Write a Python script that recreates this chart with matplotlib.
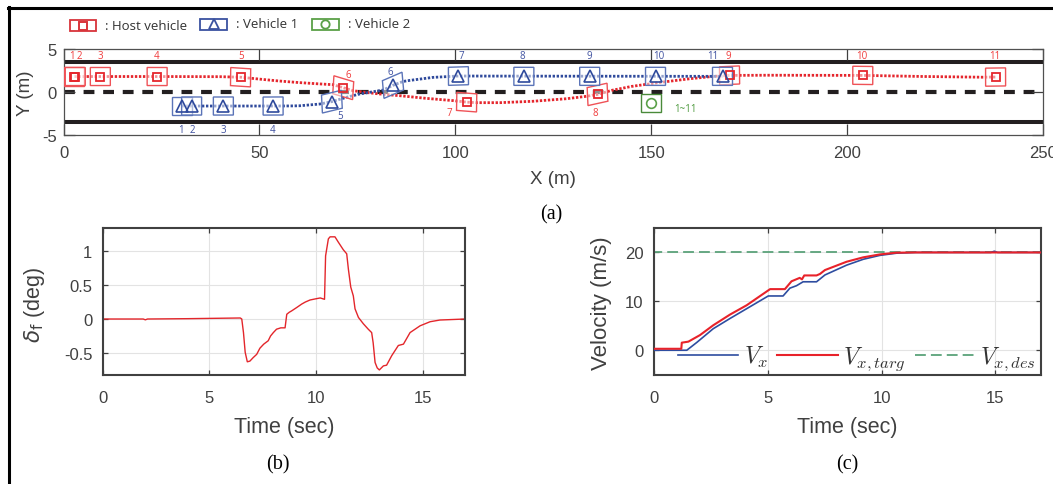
import numpy as np
import matplotlib
matplotlib.use("Agg")
import matplotlib.pyplot as plt
from matplotlib.patches import Polygon, Rectangle
from matplotlib.lines import Line2D
from matplotlib.font_manager import FontProperties

# ---------------- data ----------------
# snapshot positions (m) of the host vehicle, vehicle 1 and vehicle 2
host_x = [2.8, 3.0, 9.4, 23.9, 45.2, 71.4, 102.9, 136.3, 170.0, 204.0, 237.9]
host_y = [1.8, 1.8, 1.8, 1.8, 1.72, 0.5, -1.18, -0.28, 1.93, 1.93, 1.74]
veh1_x = [30.2, 32.7, 40.8, 53.5, 68.5, 84.1, 100.8, 117.5, 134.3, 151.1, 168.2]
veh1_y = [-1.63, -1.63, -1.63, -1.63, -1.12, 0.78, 1.86, 1.82, 1.82, 1.82, 1.82]
veh2_x = [150.0]
veh2_y = [-1.28]

# driven paths (m)
host_path_x = [2.8, 23.9, 40.0, 45.2, 50.0, 55.0, 60.0, 65.0, 68.8, 71.4, 73.9, 77.3,
               80.7, 85.8, 92.6, 99.4, 102.9, 105.4, 111.4, 119.8, 128.4, 133.5, 136.3,
               140.0, 145.0, 152.0, 160.0, 166.0, 170.0, 180.0, 204.0, 220.0, 234.6, 237.9]
host_path_y = [1.8, 1.8, 1.78, 1.72, 1.5, 1.28, 1.1, 0.95, 0.85, 0.5, 0.15, -0.05,
               -0.23, -0.43, -0.74, -1.0, -1.18, -1.24, -1.24, -1.08, -0.78, -0.5, -0.28,
               0.2, 0.65, 1.1, 1.55, 1.82, 1.93, 1.95, 1.93, 1.8, 1.72, 1.74]
veh1_path_x = [30.2, 53.5, 58.0, 60.3, 65.4, 68.5, 72.2, 75.6, 79.0, 81.6, 84.1, 86.7,
               88.4, 94.3, 100.8, 110.0, 168.2]
veh1_path_y = [-1.63, -1.63, -1.62, -1.6, -1.4, -1.12, -0.62, -0.23, 0.03, 0.23, 0.78, 1.23,
               1.35, 1.7, 1.86, 1.85, 1.82]

lane_edge = 3.5
snapshot_ids = [str(i) for i in range(1, 12)]
veh2_tag = "1~11"

# front steering angle (time s, deg)
steer_samples = [
    (0.0, 0.0), (1.9, 0.0), (2.0, -0.012), (2.1, 0.0), (4.0, 0.005), (6.45, 0.015),
    (6.52, 0.0), (6.6, -0.2), (6.68, -0.49), (6.78, -0.63), (6.9, -0.62), (7.05, -0.57),
    (7.22, -0.52), (7.37, -0.43), (7.55, -0.37), (7.76, -0.32), (7.87, -0.25), (8.0, -0.2),
    (8.15, -0.15), (8.35, -0.13), (8.55, -0.13), (8.63, 0.07), (8.75, 0.1), (8.86, 0.12),
    (9.1, 0.17), (9.33, 0.22), (9.5, 0.25), (9.72, 0.28), (10.03, 0.30), (10.2, 0.31),
    (10.40, 0.29), (10.45, 0.93), (10.58, 1.18), (10.66, 1.21), (10.89, 1.21), (11.05, 1.13),
    (11.28, 1.02), (11.44, 0.96), (11.52, 0.73), (11.63, 0.47), (11.75, 0.34), (11.83, 0.15),
    (11.99, 0.023), (12.22, -0.07), (12.45, -0.15), (12.61, -0.2), (12.68, -0.35),
    (12.77, -0.64), (12.87, -0.72), (12.97, -0.75), (13.16, -0.69), (13.31, -0.68),
    (13.55, -0.54), (13.86, -0.39), (14.1, -0.37), (14.41, -0.2), (14.88, -0.1),
    (15.35, -0.04), (15.81, -0.015), (17.0, 0.0),
]
# longitudinal velocities (time s, m/s)
vx_samples = [
    (0.0, 0.0), (1.44, 0.0), (1.88, 1.6), (2.6, 4.4), (3.34, 6.5), (4.07, 8.5),
    (5.02, 11.1), (5.67, 11.1), (5.97, 12.7), (6.26, 13.2), (6.55, 14.0), (7.14, 14.0),
    (7.51, 15.4), (8.46, 17.4), (9.19, 18.6), (9.92, 19.4), (10.65, 19.85), (11.5, 20.0),
    (14.8, 20.0), (14.95, 20.25), (15.1, 20.0), (17.0, 20.0),
]
vtarg_samples = [
    (0.0, 0.3), (1.2, 0.3), (1.22, 1.55), (1.51, 1.76), (2.02, 3.1), (2.6, 5.1),
    (3.34, 7.3), (4.07, 9.2), (4.6, 10.9), (5.1, 12.5), (5.75, 12.5), (6.04, 14.1),
    (6.4, 14.8), (6.5, 14.5), (6.6, 15.3), (7.14, 15.3), (7.29, 15.6), (7.51, 16.4),
    (8.46, 18.1), (9.19, 19.0), (9.92, 19.6), (10.65, 19.95), (11.5, 20.0), (17.0, 20.0),
]
vdes_samples = [(0.0, 0.0), (0.0, 20.0), (17.0, 20.0)]

# ---------------- style ----------------
plt.rcParams["font.family"] = ["Liberation Sans", "DejaVu Sans"]
GRAY = "#404040"
RED, RED_BOX = "#E5262D", "#EF5257"
BLUE, BLUE_BOX = "#2F4A9C", "#5B74B8"
GREEN, GREEN_BOX = "#5AA048", "#4A8A3A"
CAR_L, CAR_W = 5.1, 2.1
LABEL_FONT = dict(family=["Open Sans", "DejaVu Sans"], fontsize=7)

W, H = 1053, 485
fig = plt.figure(figsize=(W / 100, H / 100), dpi=100)


def px_axes(left, top, right, bottom):
    return fig.add_axes([left / W, 1 - bottom / H, (right - left) / W, (bottom - top) / H])


# ---------------- (a) trajectories ----------------
ax = px_axes(63.5, 50, 1043, 136)
ax.set_xlim(0, 250)
ax.set_ylim(-5, 5)
ax.hlines([lane_edge, -lane_edge], 0, 250, color="#231F20", lw=2.9, zorder=1)
ax.plot([0, 250], [0, 0], color="#231F20", lw=3, dashes=(2.6, 2.1), zorder=1)
ax.plot(host_path_x, host_path_y, color=RED, lw=2.0, dashes=(0.85, 0.6), zorder=2)
ax.plot(veh1_path_x, veh1_path_y, color=BLUE, lw=2.0, dashes=(0.85, 0.6), zorder=2)


def headings(xs, px, py):
    slope = np.gradient(np.asarray(py), np.asarray(px))
    return np.arctan(np.interp(xs, px, slope))


def draw_box(x, y, psi, edge):
    c, s = np.cos(psi), np.sin(psi)
    local = np.array([[-CAR_L / 2, -CAR_W / 2], [CAR_L / 2, -CAR_W / 2],
                      [CAR_L / 2, CAR_W / 2], [-CAR_L / 2, CAR_W / 2]])
    pts = local @ np.array([[c, s], [-s, c]]) + [x, y]
    ax.add_patch(Polygon(pts, closed=True, facecolor=(1, 1, 1, 0.5), edgecolor=edge,
                         lw=1.0, zorder=3))


for x, y, p in zip(host_x, host_y, headings(host_x, host_path_x, host_path_y)):
    draw_box(x, y, p, RED_BOX)
for x, y, p in zip(veh1_x, veh1_y, headings(veh1_x, veh1_path_x, veh1_path_y)):
    draw_box(x, y, p, BLUE_BOX)
for x, y in zip(veh2_x, veh2_y):
    draw_box(x, y, 0.0, GREEN_BOX)

ax.plot(host_x, host_y, ls="none", marker="s", ms=6, mfc="none", mec=RED, mew=1.3, zorder=4)
ax.plot(veh1_x, veh1_y, ls="none", marker="^", ms=8, mfc="none", mec=BLUE, mew=1.2, zorder=4)
ax.plot(veh2_x, veh2_y, ls="none", marker="o", ms=7, mfc="none", mec=GREEN, mew=1.2, zorder=4)

# label placement: x shift and either a lane strip or a y shift
TOP_STRIP, BOTTOM_STRIP = 4.25, -4.35
host_label_place = [(-0.6, "top"), (0.95, "top"), (-0.1, "top"), (-0.1, "top"), (0.1, "top"),
                    (1.3, 1.5), (-4.3, -1.15), (-0.5, -2.05), (-0.4, "top"), (-0.2, "top"),
                    (-0.3, "top")]
veh1_label_place = [(-0.2, "bottom"), (0.2, "bottom"), (0.1, "bottom"), (-0.2, "bottom"),
                    (2.0, -1.58), (-0.8, 1.55), (0.8, "top"), (-0.4, "top"), (0.0, "top"),
                    (0.9, "top"), (-2.4, "top")]


def place(x, y, spec):
    dx, where = spec
    if where == "top":
        return x + dx, TOP_STRIP
    if where == "bottom":
        return x + dx, BOTTOM_STRIP
    return x + dx, y + where


for lab, x, y, spec in zip(snapshot_ids, host_x, host_y, host_label_place):
    lx, ly = place(x, y, spec)
    ax.text(lx, ly, lab, color="#F03C3C", ha="center", va="center", zorder=5, **LABEL_FONT)
for lab, x, y, spec in zip(snapshot_ids, veh1_x, veh1_y, veh1_label_place):
    lx, ly = place(x, y, spec)
    ax.text(lx, ly, lab, color="#3F51A0", ha="center", va="center", zorder=5, **LABEL_FONT)
ax.text(veh2_x[0] + 8.8, veh2_y[0] - 0.66, veh2_tag, color="#4E9A3E", ha="center",
        va="center", zorder=5, **LABEL_FONT)

ax.set_xticks([0, 50, 100, 150, 200, 250])
ax.set_yticks([-5, 0, 5])
ax.set_yticklabels(["-5", "0", "5"])
ax.tick_params(axis="both", direction="in", length=8, width=0.9, top=True, right=True,
               colors=GRAY, labelsize=12)
ax.tick_params(axis="x", pad=7)
ax.tick_params(axis="y", pad=5)
for s in ax.spines.values():
    s.set_color("#505050")
    s.set_linewidth(0.9)
ax.set_xlabel("X (m)", fontsize=13.5, color=GRAY, va="center")
ax.set_ylabel("Y (m)", fontsize=13.5, color=GRAY, va="center")
ax.xaxis.set_label_coords(0.5, -0.51)
ax.yaxis.set_label_coords(-0.0383, 0.5)


def style_small(axx):
    axx.set_xlim(0, 17)
    axx.set_xticks([0, 5, 10, 15])
    axx.grid(True, color="#E3E3E3", lw=0.8)
    axx.set_axisbelow(True)
    axx.tick_params(axis="both", direction="in", length=3.5, width=0.9, top=True, right=True,
                    colors=GRAY, labelsize=12)
    axx.tick_params(axis="x", pad=11)
    axx.tick_params(axis="y", pad=7.5)
    for s in axx.spines.values():
        s.set_color(GRAY)
        s.set_linewidth(1.5)


# ---------------- (b) steering angle ----------------
axb = px_axes(102.7, 229, 465.3, 375.7)
tb, db = zip(*steer_samples)
axb.plot(tb, db, color="#E3262B", lw=1.0)
style_small(axb)
axb.set_ylim(-0.82, 1.34)
axb.set_yticks([-0.5, 0, 0.5, 1])
axb.set_yticklabels(["-0.5", "0", "0.5", "1"])
axb.set_xlabel("Time (sec)", fontsize=15.5, color=GRAY, va="center")
axb.set_ylabel(r"$\delta_{\mathrm{f}}$ (deg)", fontsize=15.5, color=GRAY, va="center")
axb.xaxis.set_label_coords(0.5, -0.35)
axb.yaxis.set_label_coords(-0.187, 0.482)

# ---------------- (c) velocities ----------------
axc = px_axes(654, 229, 1041, 375.7)
t1, v1 = zip(*vx_samples)
t2, v2 = zip(*vtarg_samples)
t3, v3 = zip(*vdes_samples)
axc.plot(t3, v3, color="#5BA27A", lw=1.3, dashes=(6, 2.8), label=r"$V_{x,des}$", zorder=2)
axc.plot(t1, v1, color="#2E4DA0", lw=1.2, label=r"$V_x$", zorder=3)
axc.plot(t2, v2, color="#E8222A", lw=1.5, label=r"$V_{x,targ}$", zorder=3)
style_small(axc)
axc.set_ylim(-5, 25)
axc.set_yticks([0, 10, 20])
axc.set_xlabel("Time (sec)", fontsize=15.5, color=GRAY, va="center")
axc.set_ylabel("Velocity (m/s)", fontsize=16, color=GRAY, va="center")
axc.xaxis.set_label_coords(0.499, -0.35)
axc.yaxis.set_label_coords(-0.135, 0.494)
handles, labels = axc.get_legend_handles_labels()
order = [1, 2, 0]
leg = axc.legend([handles[i] for i in order], [labels[i] for i in order], ncol=3,
                 frameon=False, loc="center", bbox_to_anchor=(0.525, 0.114),
                 prop=FontProperties(size=17, math_fontfamily="cm"),
                 handlelength=2.55, handletextpad=0.22, columnspacing=0.4,
                 borderpad=0.0, borderaxespad=0.0)
for txt in leg.get_texts():
    txt.set_color("#333333")

# ---------------- frame, legend and panel tags ----------------
ov = fig.add_axes([0, 0, 1, 1], zorder=10)
ov.set_xlim(0, W)
ov.set_ylim(H, 0)
ov.axis("off")
ov.patch.set_alpha(0)
ov.add_line(Line2D([8, W], [9, 9], color="black", lw=2.2))
ov.add_line(Line2D([9, 9], [8, H], color="black", lw=2.2))

key_font = dict(family=["Open Sans", "DejaVu Sans"], fontsize=9.5, color="#333333",
                ha="left", va="center")
ov.add_patch(Rectangle((69.5, 21), 26.5, 11, fill=False, ec="#D8343A", lw=1.3))
ov.plot([83], [26.5], marker="s", ms=6, mfc="none", mec="#D8343A", mew=1.4)
ov.text(105, 26, ": Host vehicle", **key_font)
ov.add_patch(Rectangle((200, 19.5), 27, 11, fill=False, ec="#3A52A0", lw=1.3))
ov.plot([213.5], [25], marker="^", ms=7.5, mfc="none", mec="#3A52A0", mew=1.3)
ov.text(236, 25, ": Vehicle 1", **key_font)
ov.add_patch(Rectangle((312, 19.5), 26.5, 11, fill=False, ec="#5AA048", lw=1.3))
ov.plot([325], [25], marker="o", ms=6, mfc="none", mec="#5AA048", mew=1.3)
ov.text(348, 25, ": Vehicle 2", **key_font)

tag_font = dict(family=["Liberation Serif", "DejaVu Serif"], fontsize=14.5, color="black",
                ha="center", va="center")
ov.text(551.5, 215, "(a)", **tag_font)
ov.text(277.5, 465, "(b)", **tag_font)
ov.text(847.5, 465, "(c)", **tag_font)

fig.savefig("out.png", dpi=100)
